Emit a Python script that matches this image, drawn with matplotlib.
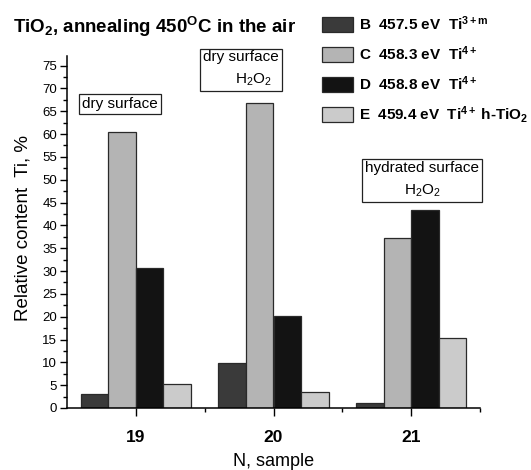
import matplotlib
matplotlib.use("Agg")
import matplotlib.pyplot as plt
import numpy as np

# sample numbers and peak components
samples = [19, 20, 21]
components = ["B", "C", "D", "E"]
legend_labels = [
    r"B  457.5 eV  Ti$^{\mathbf{3+m}}$",
    r"C  458.3 eV  Ti$^{\mathbf{4+}}$",
    r"D  458.8 eV  Ti$^{\mathbf{4+}}$",
    r"E  459.4 eV  Ti$^{\mathbf{4+}}$ h-TiO$_{\mathbf{2}}$",
]
# relative content, % (per component, per sample)
val_B = [3.1, 9.8, 1.2]
val_C = [60.4, 66.9, 37.3]
val_D = [30.6, 20.1, 43.3]
val_E = [5.2, 3.4, 15.4]
colors = ["#3a3a3a", "#b4b4b4", "#131313", "#cbcbcb"]

box_texts = ["dry surface", "dry surface\n      H$_2$O$_2$", "hydrated surface\nH$_2$O$_2$"]

plt.rcParams["font.family"] = ["Liberation Sans", "DejaVu Sans"]
plt.rcParams["mathtext.fontset"] = "custom"
plt.rcParams["mathtext.rm"] = "Liberation Sans"
plt.rcParams["mathtext.it"] = "Liberation Sans"
plt.rcParams["mathtext.bf"] = "Liberation Sans:bold"

fig = plt.figure(figsize=(5.31, 4.70), dpi=100)
ax = fig.add_axes([67 / 531, 1 - 408 / 470, (480 - 67) / 531, (408 - 56) / 470])

x = np.array(samples, dtype=float)
width = 0.2
offsets = [-0.3, -0.1, 0.1, 0.3]
bars = []
for vals, off, col, lab in zip([val_B, val_C, val_D, val_E], offsets, colors, legend_labels):
    b = ax.bar(x + off, vals, width, color=col, edgecolor="#2a2a2a", linewidth=0.9, label=lab)
    bars.append(b)

ax.set_xlim(18.5, 21.5)
ax.set_ylim(0, 77.1)
ax.set_xticks(samples)
ax.set_xticklabels([str(s) for s in samples], fontweight="bold", fontsize=12.5)
ax.set_xticks([19.5, 20.5, 21.5], minor=True)
ax.set_yticks(np.arange(0, 80, 5))
ax.set_yticks(np.arange(2.5, 77, 5), minor=True)
ax.tick_params(axis="y", which="major", direction="out", length=5, width=1, labelsize=9.5, pad=2)
ax.tick_params(axis="y", which="minor", direction="out", length=3, width=1)
ax.tick_params(axis="x", which="major", direction="out", length=6, width=1, pad=10)
ax.tick_params(axis="x", which="minor", direction="out", length=3, width=1)
for s in ["top", "right"]:
    ax.spines[s].set_visible(False)
for s in ["left", "bottom"]:
    ax.spines[s].set_linewidth(1.1)

ax.set_xlabel("N, sample", fontsize=13)
ax.xaxis.set_label_coords(0.5, -(466 - 408) / 352, transform=ax.transAxes)
ax.xaxis.label.set_va("baseline")
ax.set_ylabel("Relative content  Ti, %", fontsize=13.5)
ax.yaxis.set_label_coords(-(67 - 32) / 413, (408 - 228) / 352)

# annotation boxes (data coordinates)
box_pos = [(18.887, 66.6), (19.764, 74.2), (21.08, 50.0)]
for t, (bx, by) in zip(box_texts, box_pos):
    ax.text(bx, by, t, ha="center", va="center", fontsize=11, multialignment="center",
            linespacing=1.6, clip_on=False,
            bbox=dict(boxstyle="square,pad=0.2", facecolor="white", edgecolor="#222222", linewidth=0.9))

fig.text(13 / 531, 1 - 33 / 470, r"TiO$_{\mathbf{2}}$, annealing 450$^{\mathbf{O}}$C in the air",
         fontsize=13.5, fontweight="bold", ha="left", va="baseline")

leg = fig.legend(handles=bars, loc="upper left", bbox_to_anchor=(322 / 531, 1 - 14 / 470),
                 frameon=False, prop={"weight": "bold", "size": 11},
                 handlelength=2.0, handleheight=1.1, handletextpad=0.45,
                 labelspacing=0.75, borderpad=0, borderaxespad=0)

fig.savefig("out.png", dpi=100)
